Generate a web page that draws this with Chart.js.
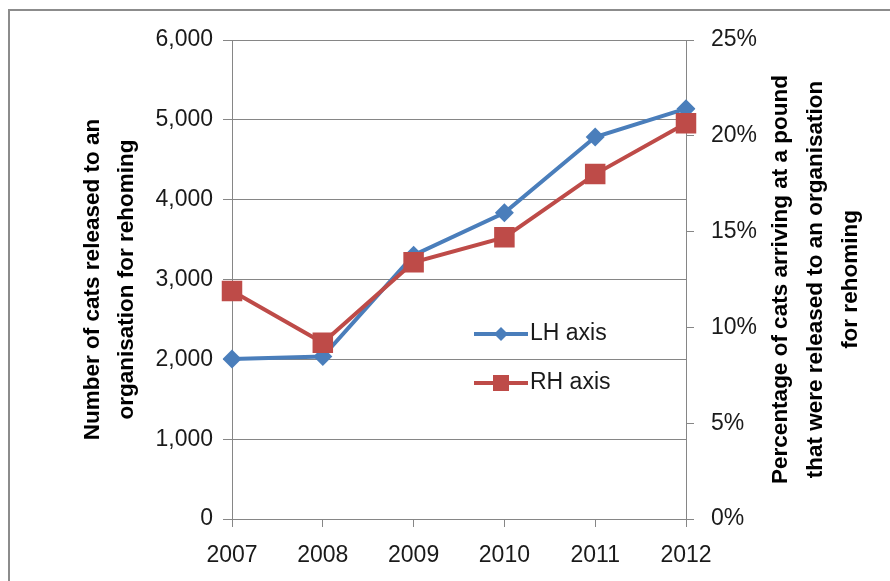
<!DOCTYPE html>
<html>
<head>
<meta charset="utf-8">
<script src="https://cdn.jsdelivr.net/npm/chart.js@4/dist/chart.umd.min.js"></script>
<style>
  html, body { margin: 0; padding: 0; background: #fff; }
  #wrap { width: 890px; height: 581px; position: relative; }
</style>
</head>
<body>
<div id="wrap"><canvas id="catsChart"></canvas></div>
<script>
const years = ["2007", "2008", "2009", "2010", "2011", "2012"];
const catsReleased = [2005, 2035, 3305, 3835, 4785, 5140];   // LH axis
const pctReleased = [11.9, 9.2, 13.4, 14.7, 18.0, 20.65];     // RH axis, %
const leftTitle = ["Number of cats released to an", "organisation for rehoming"];
const rightTitle = ["Percentage of cats arriving at a pound", "that were released to an organisation", "for rehoming"];
const legendLabels = ["LH axis", "RH axis"];

const BLUE = "#4a7ebb", RED = "#be4b48", GRID = "#868686", TXT = "#1a1a1a";
const FONT = "'Liberation Sans', Arial, sans-serif";

// white page + the grey frame that is cut off at right/bottom
const frame = {
  id: "frame",
  beforeDraw(chart) {
    const ctx = chart.ctx;
    ctx.save();
    ctx.fillStyle = "#fff";
    ctx.fillRect(0, 0, chart.width, chart.height);
    ctx.strokeStyle = "#8c8c8c";
    ctx.lineWidth = 2;
    ctx.beginPath();
    ctx.moveTo(9, chart.height);
    ctx.lineTo(9, 10);
    ctx.lineTo(chart.width, 10);
    ctx.stroke();
    ctx.restore();
  }
};

function vertLines(ctx, lines, xs, cy) {
  lines.forEach((t, i) => {
    ctx.save();
    ctx.translate(xs[i], cy);
    ctx.rotate(-Math.PI / 2);
    ctx.fillText(t, 0, 0);
    ctx.restore();
  });
}

// Excel-style titles (both read bottom-to-top) and the in-plot legend
const extras = {
  id: "extras",
  afterDraw(chart) {
    const ctx = chart.ctx, a = chart.chartArea;
    const cy = (a.top + a.bottom) / 2;
    ctx.save();
    ctx.fillStyle = "#000";
    ctx.font = "bold 22.5px " + FONT;
    ctx.textAlign = "center";
    ctx.textBaseline = "middle";
    vertLines(ctx, leftTitle, [93, 127], cy);
    vertLines(ctx, rightTitle, [781, 816, 851], cy);

    const lx = a.left + 242, rows = [a.top + 294, a.top + 343];
    const cols = [BLUE, RED];
    rows.forEach((y, i) => {
      ctx.strokeStyle = cols[i];
      ctx.fillStyle = cols[i];
      ctx.lineWidth = 4;
      ctx.beginPath();
      ctx.moveTo(lx, y);
      ctx.lineTo(lx + 54, y);
      ctx.stroke();
      const mx = lx + 27;
      ctx.beginPath();
      if (i === 0) {
        ctx.moveTo(mx, y - 7); ctx.lineTo(mx + 7, y); ctx.lineTo(mx, y + 7); ctx.lineTo(mx - 7, y);
        ctx.closePath();
        ctx.fill();
      } else {
        ctx.fillRect(mx - 8, y - 8, 16, 16);
      }
      ctx.fillStyle = TXT;
      ctx.font = "23px " + FONT;
      ctx.textAlign = "left";
      ctx.fillText(legendLabels[i], lx + 56, y);
    });
    ctx.restore();
  }
};

new Chart(document.getElementById("catsChart"), {
  type: "line",
  data: {
    labels: years,
    datasets: [
      {
        label: legendLabels[1], data: pctReleased, yAxisID: "yR", order: 0,
        borderColor: RED, backgroundColor: RED, borderWidth: 4,
        pointStyle: "rect", pointRadius: 14.5, pointBorderWidth: 0, tension: 0
      },
      {
        label: legendLabels[0], data: catsReleased, yAxisID: "yL", order: 1,
        borderColor: BLUE, backgroundColor: BLUE, borderWidth: 4,
        pointStyle: "rectRot", pointRadius: 9.5, pointBorderWidth: 0, tension: 0
      }
    ]
  },
  options: {
    responsive: true, maintainAspectRatio: false, animation: false,
    layout: { padding: { top: 40, left: 0, right: 0, bottom: 0 } },
    plugins: { legend: { display: false }, tooltip: { enabled: false } },
    scales: {
      x: {
        offset: false,
        grid: { drawOnChartArea: false, drawTicks: true, tickLength: 8, color: GRID },
        border: { color: GRID },
        ticks: { color: TXT, font: { family: FONT, size: 23 }, padding: 15, maxRotation: 0, autoSkip: false },
        afterFit(s) { s.height = 62; }
      },
      yL: {
        position: "left", min: 0, max: 6000,
        grid: { color: GRID, tickLength: 9 },
        border: { color: GRID },
        ticks: { stepSize: 1000, color: TXT, font: { family: FONT, size: 23 }, padding: 10,
          callback: v => v.toLocaleString("en-US") },
        afterFit(s) { s.width = 232; }
      },
      yR: {
        position: "right", min: 0, max: 25,
        grid: { drawOnChartArea: false, tickLength: 8, color: GRID },
        border: { color: GRID },
        ticks: { stepSize: 5, color: TXT, font: { family: FONT, size: 23 }, padding: 17,
          callback: v => v + "%" },
        afterFit(s) { s.width = 204; }
      }
    }
  },
  plugins: [frame, extras]
});
</script>
</body>
</html>
